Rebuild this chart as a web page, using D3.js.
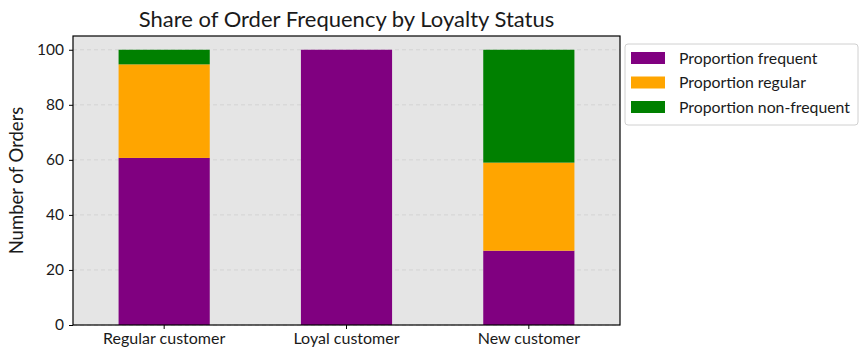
<!DOCTYPE html>
<html lang="en">
<head>
    <meta charset="UTF-8">
    <title>Share of Order Frequency by Loyalty Status</title>
    <script src="https://cdn.jsdelivr.net/npm/d3@7"></script>
    <style>
        body { margin: 0; background: #fff; }
        text { font-family: Lato, "Open Sans", sans-serif; fill: #1a1a1a; }
    </style>
</head>
<body>
<script>

    const categories = ["Regular customer", "Loyal customer", "New customer"];
    const series_names = ["Proportion frequent", "Proportion regular", "Proportion non-frequent"];
    const frequent = [60.7, 100, 27.0];
    const regular = [34.0, 0, 32.0];
    const non_frequent = [5.3, 0, 41.0];
    const colors = ["#800080", "#ffa500", "#008000"];
    const y_ticks = [0, 20, 40, 60, 80, 100];

    const width = 867, height = 361;
    const margin = {top: 36, right: 247, bottom: 36, left: 73};

    const rows = categories.map((c, i) => ({
        category: c,
        [series_names[0]]: frequent[i],
        [series_names[1]]: regular[i],
        [series_names[2]]: non_frequent[i]
    }));
    const stacked = d3.stack().keys(series_names)(rows);

    const svg = d3.select("body").append("svg").attr("width", width).attr("height", height);

    const x = d3.scaleBand()
        .domain(categories)
        .range([margin.left, width - margin.right])
        .paddingInner(0.5)
        .paddingOuter(0.25);

    const y = d3.scaleLinear()
        .domain([0, 105])
        .range([height - margin.bottom, margin.top]);

    const color = d3.scaleOrdinal(series_names, colors);

    // plot background
    svg.append("rect")
        .attr("x", margin.left).attr("y", margin.top)
        .attr("width", width - margin.left - margin.right)
        .attr("height", height - margin.top - margin.bottom)
        .attr("fill", "#e5e5e5");

    // grid
    svg.append("g")
        .selectAll("line")
        .data(y_ticks)
        .join("line")
        .attr("x1", margin.left).attr("x2", width - margin.right)
        .attr("y1", d => y(d)).attr("y2", d => y(d))
        .attr("stroke", "#cfcfcf")
        .attr("stroke-width", 0.8)
        .attr("stroke-dasharray", "4,3");

    // bars
    svg.append("g")
        .selectAll("g")
        .data(stacked)
        .join("g")
        .attr("fill", d => color(d.key))
        .selectAll("rect")
        .data(d => d)
        .join("rect")
        .attr("x", d => x(d.data.category))
        .attr("width", x.bandwidth())
        .attr("y", d => y(d[1]))
        .attr("height", d => y(d[0]) - y(d[1]));

    // frame
    svg.append("rect")
        .attr("x", margin.left).attr("y", margin.top)
        .attr("width", width - margin.left - margin.right)
        .attr("height", height - margin.top - margin.bottom)
        .attr("fill", "none")
        .attr("stroke", "#000")
        .attr("stroke-width", 1.2);

    // axes
    const x_axis = svg.append("g")
        .attr("transform", `translate(0,${height - margin.bottom})`)
        .call(d3.axisBottom(x).tickSize(4).tickPadding(4));
    x_axis.select(".domain").remove();
    x_axis.selectAll("text").attr("font-size", 16);

    const y_axis = svg.append("g")
        .attr("transform", `translate(${margin.left},0)`)
        .call(d3.axisLeft(y).tickValues(y_ticks).tickSize(4).tickPadding(5));
    y_axis.select(".domain").remove();
    y_axis.selectAll("text").attr("font-size", 15.5);

    // title & labels
    svg.append("text")
        .attr("x", (margin.left + width - margin.right) / 2)
        .attr("y", 27)
        .attr("text-anchor", "middle")
        .attr("font-size", 22)
        .text("Share of Order Frequency by Loyalty Status");

    svg.append("text")
        .attr("transform", `translate(23,${(margin.top + height - margin.bottom) / 2}) rotate(-90)`)
        .attr("text-anchor", "middle")
        .attr("font-size", 18.5)
        .text("Number of Orders");

    // legend
    const legend = svg.append("g").attr("transform", "translate(625,44)");
    legend.append("rect")
        .attr("width", 233).attr("height", 81)
        .attr("rx", 3)
        .attr("fill", "#fff")
        .attr("stroke", "#d0d0d0");

    const item = legend.selectAll("g.item")
        .data(series_names)
        .join("g")
        .attr("class", "item")
        .attr("transform", (d, i) => `translate(6,${14 + i * 24.5})`);
    item.append("rect")
        .attr("width", 34).attr("height", 12).attr("y", -6)
        .attr("fill", d => color(d));
    item.append("text")
        .attr("x", 48).attr("dy", "0.35em")
        .attr("font-size", 15.8)
        .text(d => d);

</script>
</body>
</html>
